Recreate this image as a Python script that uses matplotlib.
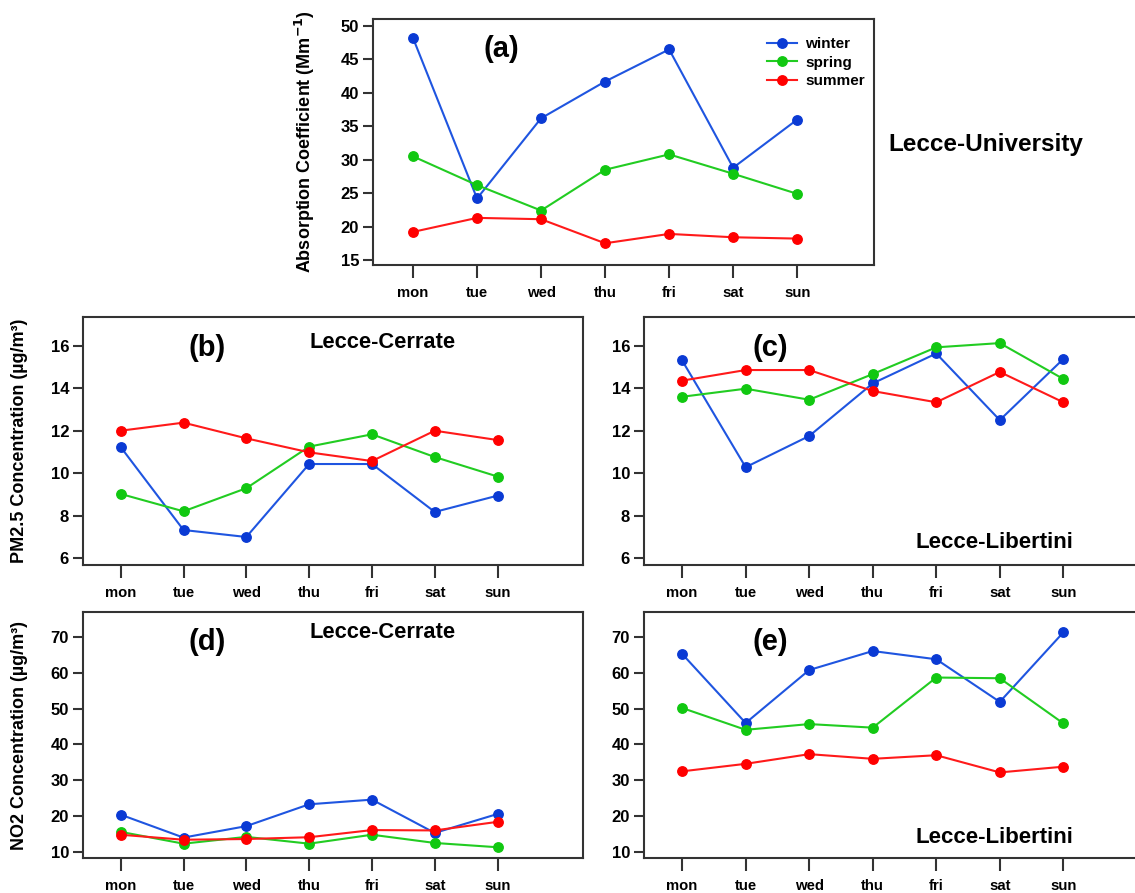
import matplotlib
matplotlib.use("Agg")
import matplotlib.pyplot as plt

plt.rcParams['font.family'] = ['Liberation Sans', 'DejaVu Sans']
plt.rcParams['font.weight'] = 'bold'
plt.rcParams['mathtext.default'] = 'bf'

days = ['mon', 'tue', 'wed', 'thu', 'fri', 'sat', 'sun']
seasons = ['winter', 'spring', 'summer']

# (a) Absorption coefficient, Lecce-University
abs_winter = [48.2, 24.2, 36.2, 41.7, 46.5, 28.8, 36.0]
abs_spring = [30.5, 26.2, 22.4, 28.5, 30.8, 27.9, 24.9]
abs_summer = [19.2, 21.3, 21.1, 17.5, 18.9, 18.4, 18.2]

# (b) PM2.5 Lecce-Cerrate
pm_cer_winter = [11.24, 7.33, 7.00, 10.44, 10.44, 8.18, 8.95]
pm_cer_spring = [9.03, 8.21, 9.30, 11.26, 11.84, 10.77, 9.85]
pm_cer_summer = [12.01, 12.39, 11.65, 10.99, 10.58, 12.01, 11.57]

# (c) PM2.5 Lecce-Libertini
pm_lib_winter = [15.32, 10.29, 11.76, 14.24, 15.65, 12.51, 15.39]
pm_lib_spring = [13.61, 13.99, 13.47, 14.68, 15.94, 16.14, 14.45]
pm_lib_summer = [14.37, 14.87, 14.87, 13.88, 13.35, 14.78, 13.35]

# (d) NO2 Lecce-Cerrate
no2_cer_winter = [20.4, 14.0, 17.2, 23.3, 24.6, 15.3, 20.6]
no2_cer_spring = [15.6, 12.3, 14.2, 12.3, 14.8, 12.5, 11.3]
no2_cer_summer = [14.8, 13.4, 13.6, 14.1, 16.1, 16.0, 18.4]

# (e) NO2 Lecce-Libertini
no2_lib_winter = [65.3, 46.0, 60.8, 66.1, 63.8, 51.9, 71.3]
no2_lib_spring = [50.2, 44.1, 45.7, 44.7, 58.7, 58.5, 45.9]
no2_lib_summer = [32.5, 34.6, 37.3, 36.0, 37.0, 32.2, 33.8]

line_colors = ['#1F55E0', '#22CC22', '#FF1A1A']
marker_colors = ['#0A3AD4', '#11C811', '#FF0000']

W, H = 1135, 893
fig = plt.figure(figsize=(W / 100, H / 100), dpi=100)


def box(left, top, right, bottom):
    return [left / W, 1 - bottom / H, (right - left) / W, (bottom - top) / H]


def style(ax, ylim, yticks, xlim):
    ax.set_xlim(*xlim)
    ax.set_ylim(*ylim)
    ax.set_xticks(range(len(days)))
    ax.set_xticklabels(days)
    ax.set_yticks(yticks)
    for s in ax.spines.values():
        s.set_linewidth(1.5)
        s.set_color('#333333')
    ax.tick_params(axis='x', direction='out', length=9, width=1.5,
                   color='#333333', pad=6, labelsize=10.75)
    ax.tick_params(axis='y', direction='out', length=7, width=1.5,
                   color='#333333', pad=3, labelsize=12)


def draw(ax, series):
    lines = []
    for vals, lc, mc, name in zip(series, line_colors, marker_colors, seasons):
        ln, = ax.plot(range(len(days)), vals, color=lc, lw=1.5, marker='o',
                      ms=6.8, mfc=mc, mec=mc, label=name)
        lines.append(ln)
    return lines


# (a)
axa = fig.add_axes(box(373, 19, 874, 265))
draw(axa, [abs_winter, abs_spring, abs_summer])
style(axa, (14.25, 51.05), range(15, 51, 5), (-0.625, 7.2))
axa.text(0.257, 0.878, '(a)', transform=axa.transAxes, ha='center',
         va='center', fontsize=21)
axa.legend(loc='upper left', bbox_to_anchor=(0.786, 0.925), frameon=False,
           borderaxespad=0, borderpad=0, handlelength=2.0, handletextpad=0.5,
           labelspacing=0.28, fontsize=11)
fig.text(888 / W, 1 - 145 / H, 'Lecce-University', ha='left', va='center',
         fontsize=17.5)
fig.text(305 / W, 1 - 142 / H, r'Absorption Coefficient (Mm$^{-1}$)',
         rotation=90, ha='center', va='center', fontsize=13)

# (b)
axb = fig.add_axes(box(83, 317, 583, 565))
draw(axb, [pm_cer_winter, pm_cer_spring, pm_cer_summer])
style(axb, (5.68, 17.37), range(6, 17, 2), (-0.6, 7.36))
axb.text(0.248, 0.875, '(b)', transform=axb.transAxes, ha='center',
         va='center', fontsize=21)
axb.text(0.6, 0.899, 'Lecce-Cerrate', transform=axb.transAxes, ha='center',
         va='center', fontsize=15.75)

# (c)
axc = fig.add_axes(box(644, 317, 1144, 565))
draw(axc, [pm_lib_winter, pm_lib_spring, pm_lib_summer])
style(axc, (5.68, 17.37), range(6, 17, 2), (-0.6, 7.27))
axc.text(0.252, 0.875, '(c)', transform=axc.transAxes, ha='center',
         va='center', fontsize=21)
axc.text(0.858, 0.089, 'Lecce-Libertini', transform=axc.transAxes,
         ha='right', va='center', fontsize=16)
fig.text(20 / W, 1 - 441 / H, 'PM2.5 Concentration (µg/m³)', rotation=90,
         ha='center', va='center', fontsize=13)

# (d)
axd = fig.add_axes(box(83, 612, 583, 858))
draw(axd, [no2_cer_winter, no2_cer_spring, no2_cer_summer])
style(axd, (8.3, 77), range(10, 71, 10), (-0.6, 7.36))
axd.text(0.248, 0.878, '(d)', transform=axd.transAxes, ha='center',
         va='center', fontsize=21)
axd.text(0.6, 0.915, 'Lecce-Cerrate', transform=axd.transAxes, ha='center',
         va='center', fontsize=15.75)

# (e)
axe = fig.add_axes(box(644, 612, 1144, 858))
draw(axe, [no2_lib_winter, no2_lib_spring, no2_lib_summer])
style(axe, (8.3, 77), range(10, 71, 10), (-0.6, 7.27))
axe.text(0.252, 0.878, '(e)', transform=axe.transAxes, ha='center',
         va='center', fontsize=21)
axe.text(0.858, 0.085, 'Lecce-Libertini', transform=axe.transAxes,
         ha='right', va='center', fontsize=16)
fig.text(20 / W, 1 - 735 / H, 'NO2 Concentration (µg/m³)', rotation=90,
         ha='center', va='center', fontsize=13)

fig.savefig('out.png', dpi=100)
